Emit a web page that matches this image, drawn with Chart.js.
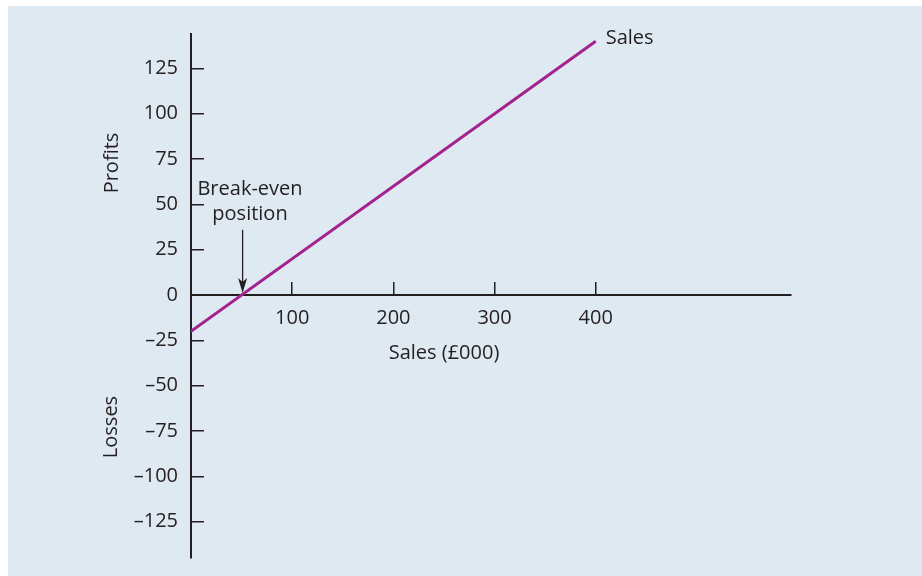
<!DOCTYPE html>
<html><head><meta charset="utf-8">
<script src="https://cdn.jsdelivr.net/npm/chart.js@4/dist/chart.umd.min.js"></script>
<style>html,body{margin:0;padding:0;background:#fff}#wrap{width:922px;height:576px}</style>
</head><body><div id="wrap"><canvas id="c" width="922" height="576"></canvas></div>
<script>
const salesX = [0, 400];
const profitY = [-20, 140];
const xTicks = [100, 200, 300, 400];
const yTicks = [-125, -100, -75, -50, -25, 0, 25, 50, 75, 100, 125];
const breakEvenX = 51;
const arrowTopY = 36;
const seriesLabel = 'Sales';
const xTitle = 'Sales (£000)';
const yTitleUp = 'Profits';
const yTitleDown = 'Losses';
const noteLines = ['Break-even', 'position'];

const INK = '#231f20';
const LINE = '#a3238e';
const FONT = '"Open Sans", "DejaVu Sans", sans-serif';

const fmt = v => (v < 0 ? '\u2013' + Math.abs(v) : String(v));

const deco = {
  id: 'deco',
  beforeDraw(chart) {
    const c = chart.ctx;
    c.save();
    c.fillStyle = '#dee9f2';
    c.fillRect(8, 6, 914, 570);
    c.restore();
  },
  afterDraw(chart) {
    const c = chart.ctx, xs = chart.scales.x, ys = chart.scales.y;
    c.save();
    c.fillStyle = INK;
    c.font = '20px ' + FONT;
    c.textAlign = 'right';
    c.textBaseline = 'middle';
    const axX = xs.getPixelForValue(0);
    ys.ticks.forEach(t => c.fillText(fmt(t.value), axX - 13, ys.getPixelForValue(t.value)));
    c.textAlign = 'center';
    c.fillText(xTitle, 444, 353);
    c.save(); c.translate(112, 163); c.rotate(-Math.PI / 2); c.fillText(yTitleUp, 0, 0); c.restore();
    c.save(); c.translate(111, 427); c.rotate(-Math.PI / 2); c.fillText(yTitleDown, 0, 0); c.restore();
    c.fillText(noteLines[0], 250, 189);
    c.fillText(noteLines[1], 250, 214);
    c.textAlign = 'left';
    c.fillText(seriesLabel, xs.getPixelForValue(salesX[1]) + 10, ys.getPixelForValue(profitY[1]) - 3);
    const ax = xs.getPixelForValue(breakEvenX);
    const y0 = ys.getPixelForValue(arrowTopY);
    const tip = ys.getPixelForValue(0) - 2;
    c.strokeStyle = INK; c.lineWidth = 1.3;
    c.beginPath(); c.moveTo(ax, y0); c.lineTo(ax, tip - 10); c.stroke();
    c.beginPath(); c.moveTo(ax, tip); c.lineTo(ax - 4.5, tip - 15); c.lineTo(ax, tip - 11); c.lineTo(ax + 4.5, tip - 15); c.closePath(); c.fill();
    c.restore();
  }
};

new Chart(document.getElementById('c'), {
  type: 'scatter',
  data: {
    datasets: [{
      label: seriesLabel,
      data: salesX.map((x, i) => ({ x, y: profitY[i] })),
      showLine: true,
      borderColor: LINE,
      borderWidth: 3,
      pointRadius: 0,
      fill: false
    }]
  },
  options: {
    responsive: false,
    devicePixelRatio: 1,
    animation: false,
    layout: { padding: { left: 191, right: 131, top: 34, bottom: 18 } },
    plugins: { legend: { display: false }, tooltip: { enabled: false } },
    scales: {
      x: {
        type: 'linear', min: 0, max: 593, position: { y: 0 },
        afterBuildTicks: s => { s.ticks = xTicks.map(v => ({ value: v })); },
        grid: { drawOnChartArea: false, drawTicks: true, tickLength: -14, color: INK, lineWidth: 1.5 },
        border: { display: true, color: INK, width: 2 },
        ticks: { padding: 25, autoSkip: false, maxRotation: 0, color: INK, font: { family: FONT, size: 20 }, callback: v => fmt(v) }
      },
      y: {
        type: 'linear', min: -145, max: 144, position: { x: 0 },
        afterBuildTicks: s => { s.ticks = yTicks.map(v => ({ value: v })); },
        grid: { drawOnChartArea: false, drawTicks: true, tickLength: -14, color: INK, lineWidth: 1.5 },
        border: { display: true, color: INK, width: 2 },
        ticks: { display: false }
      }
    }
  },
  plugins: [deco]
});
</script></body></html>
